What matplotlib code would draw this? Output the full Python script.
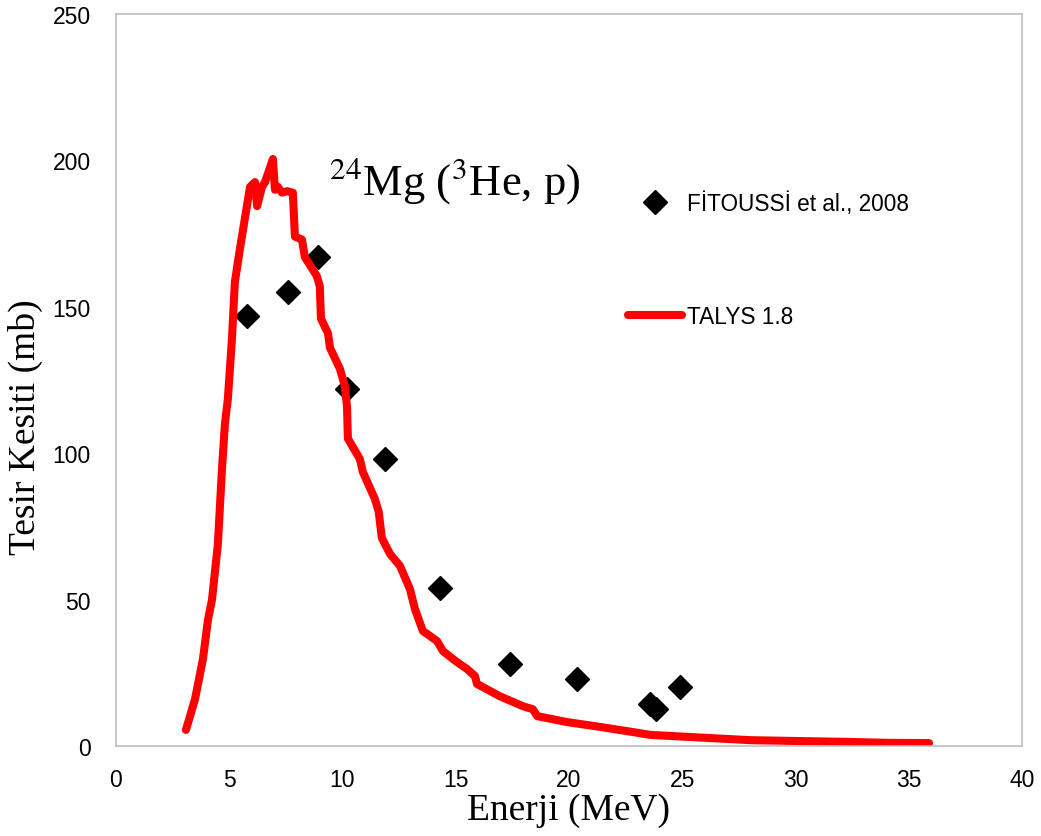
import numpy as np
import matplotlib.pyplot as plt

# --- datos ---
exp_x = [5.8, 7.6, 8.9, 10.2, 11.9, 14.3, 17.4, 20.35, 23.6, 23.85, 24.9]
exp_y = [147, 155, 167, 122, 98, 54, 28, 23, 14.3, 12.6, 20]

talys_x = [3.09, 3.49, 3.84, 4.06, 4.24, 4.5, 4.68, 4.81, 4.94, 5.12, 5.25,
           5.47, 5.92, 6.14, 6.23, 6.45, 6.58, 6.93, 7.02, 7.15, 7.33, 7.55,
           7.81, 7.90, 8.21, 8.34, 8.87, 9.0, 9.05, 9.36, 9.45, 9.89, 10.1,
           10.2, 10.24, 10.77, 10.9, 11.43, 11.6, 11.74, 12.1, 12.54, 12.98,
           13.2, 13.55, 14.17, 14.44, 15.0, 15.5, 15.85, 15.94, 16.95, 18.0,
           18.4, 18.6, 19.9, 21.4, 22.8, 23.6, 25.8, 28.0, 30.2, 32.4, 34.0,
           35.9]
talys_y = [5.5, 16, 29.7, 43, 50, 69, 94.6, 110, 118.5, 139, 158.5,
           169.7, 191, 192.6, 184.4, 191, 192.6, 200.5, 190, 191, 189, 189.5,
           189, 174, 173, 167, 160.5, 157, 146, 141, 136, 128.8, 123,
           116, 105, 98, 93.6, 84.4, 80, 71, 65.6, 61.5, 53.6,
           46.8, 39.3, 35.9, 32.4, 29, 26.3, 23.9, 21.2, 17, 13.5,
           12.6, 10.2, 8.2, 6.5, 4.8, 3.8, 2.9, 2.0, 1.7, 1.4, 1.1,
           1.0]

plt.rcParams['mathtext.fontset'] = 'stix'

fig = plt.figure(figsize=(10.41, 8.37), dpi=100)
ax = fig.add_axes([0.1114, 0.1075, 0.8703, 0.8745])

ax.plot(exp_x, exp_y, linestyle='none', marker='D', markersize=12.5,
        color='black', label='FİTOUSSİ et al., 2008')
ax.plot(talys_x, talys_y, color='#FF0000', linewidth=5.8,
        solid_capstyle='round', solid_joinstyle='round', label='TALYS 1.8')

ax.set_xlim(0, 40)
ax.set_ylim(0, 250)
ax.set_xticks(np.arange(0, 41, 5))
ax.set_yticks(np.arange(0, 251, 50))

for s in ax.spines.values():
    s.set_color('#BFBFBF')
    s.set_linewidth(1.2)

ax.tick_params(length=0, labelsize=16.5)
ax.tick_params(axis='x', pad=16)
ax.tick_params(axis='y', pad=18)
for lab in ax.get_xticklabels() + ax.get_yticklabels():
    lab.set_family('Liberation Sans')

ax.set_xlabel('Enerji (MeV)', family='Liberation Serif', fontsize=27)
ax.xaxis.set_label_coords(0.5, -0.064)
ax.set_ylabel('Tesir Kesiti (mb)', family='Liberation Serif', fontsize=27)
ax.yaxis.set_label_coords(-0.080, 0.437)

ax.text(0.235, 0.755, r'$^{24}$Mg ($^{3}$He, p)', transform=ax.transAxes,
        family='Liberation Serif', fontsize=32)

leg = ax.legend(loc='upper left', bbox_to_anchor=(0.565, 0.758), frameon=False,
                fontsize=16.3, handlelength=2.4, handletextpad=0.2,
                labelspacing=4.0, borderaxespad=0, borderpad=0)
for t in leg.get_texts():
    t.set_family('Liberation Sans')

fig.savefig('out.png', dpi=100)
